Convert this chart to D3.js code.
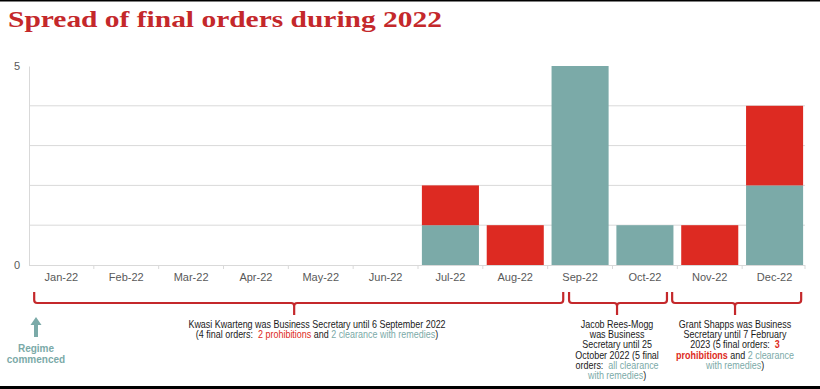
<!DOCTYPE html>
<html>
<head>
<meta charset="utf-8">
<script src="https://cdn.jsdelivr.net/npm/d3@7"></script>
<style>
  body { margin: 0; background: #fff; }
  svg { display: block; }
  text { font-family: "Liberation Sans", Arial, sans-serif; }
</style>
</head>
<body>
<script>
// data
const months = ['Jan-22', 'Feb-22', 'Mar-22', 'Apr-22', 'May-22', 'Jun-22',
                'Jul-22', 'Aug-22', 'Sep-22', 'Oct-22', 'Nov-22', 'Dec-22'];
const clearance = [0, 0, 0, 0, 0, 0, 1, 0, 5, 1, 0, 2];
const prohibitions = [0, 0, 0, 0, 0, 0, 1, 1, 0, 0, 1, 2];
const yTicks = [0, 5];
const gridValues = [1, 2, 3, 4];

// secretary periods: where each brace starts, ends and points (month + fraction of a step)
const periods = [
  { from: 'Jan-22', fromFrac: 0.08, to: 'Sep-22', toFrac: 0.24, mid: 'May-22', midFrac: 0.09 },
  { from: 'Sep-22', fromFrac: 0.33, to: 'Oct-22', toFrac: 0.84, mid: 'Oct-22', midFrac: 0.07 },
  { from: 'Oct-22', fromFrac: 0.92, to: 'Dec-22', toFrac: 0.91, mid: 'Nov-22', midFrac: 0.89 }
];

const W = 820, H = 389;
const red = '#dd2a22', teal = '#7baaa8', braceRed = '#c4282b';

const svg = d3.select('body').append('svg')
  .attr('width', W).attr('height', H);

// frame lines
svg.append('rect').attr('x', 0).attr('y', 0).attr('width', W).attr('height', 1.5).attr('fill', '#000');
svg.append('rect').attr('x', 0).attr('y', 386).attr('width', W).attr('height', 3).attr('fill', '#000');

// title
svg.append('text')
  .attr('x', 8).attr('y', 27)
  .attr('textLength', 434).attr('lengthAdjust', 'spacingAndGlyphs')
  .style('font-family', '"Liberation Serif", "DejaVu Serif", serif')
  .style('font-weight', 'bold')
  .style('font-size', '24px')
  .attr('fill', '#c4282b')
  .text('Spread of final orders during 2022');

const x = d3.scaleBand().domain(months).range([29, 807])
  .paddingInner(0.12).paddingOuter(0.06);
const y = d3.scaleLinear().domain([0, 5]).range([265, 66]);
const step = x.step();
const bandLeft = m => x(m) - x.paddingInner() * step / 2;
const at = (m, f) => bandLeft(m) + f * step;

// gridlines
svg.append('g').selectAll('line').data(gridValues).join('line')
  .attr('x1', 29).attr('x2', 805)
  .attr('y1', d => y(d)).attr('y2', d => y(d))
  .attr('stroke', '#d9d9d9').attr('stroke-width', 1);

// bars
const stacked = months.map((m, i) => ({ m, c: clearance[i], p: prohibitions[i] }));
svg.append('g').selectAll('rect').data(stacked.filter(d => d.c > 0)).join('rect')
  .attr('x', d => x(d.m)).attr('width', x.bandwidth())
  .attr('y', d => y(d.c)).attr('height', d => y(0) - y(d.c))
  .attr('fill', teal);
svg.append('g').selectAll('rect').data(stacked.filter(d => d.p > 0)).join('rect')
  .attr('x', d => x(d.m)).attr('width', x.bandwidth())
  .attr('y', d => y(d.c + d.p)).attr('height', d => y(d.c) - y(d.c + d.p))
  .attr('fill', red);

// y axis
const yAxis = svg.append('g').attr('transform', 'translate(29,0)')
  .call(d3.axisLeft(y).tickValues(yTicks).tickFormat(d3.format('d')).tickSize(0).tickPadding(9));
yAxis.select('.domain').attr('stroke', '#d9d9d9');
yAxis.selectAll('text').style('font-size', '11px').attr('fill', '#595959');

// x axis
const xAxis = svg.append('g').attr('transform', `translate(0,${y(0)})`)
  .call(d3.axisBottom(x).tickSize(0).tickPadding(8));
xAxis.select('.domain').attr('stroke', '#d9d9d9').attr('d', `M29,0.5H805`);
xAxis.selectAll('text').style('font-size', '11px').attr('fill', '#595959');
svg.append('g').selectAll('line').data(months.slice(1).concat(['end'])).join('line')
  .attr('x1', (d, i) => i < 11 ? bandLeft(d) : 805)
  .attr('x2', (d, i) => i < 11 ? bandLeft(d) : 805)
  .attr('y1', y(0)).attr('y2', y(0) + 4)
  .attr('stroke', '#d9d9d9');

// braces
const braceY = 303, braceTop = 292, braceBottom = 315;
function bracePath(p) {
  const x0 = at(p.from, p.fromFrac);
  const x1 = at(p.to, p.toFrac);
  const xm = at(p.mid, p.midFrac);
  const r = 3;
  return `M${x0},${braceTop}V${braceY - r}Q${x0},${braceY} ${x0 + r},${braceY}` +
    `H${xm - r}Q${xm},${braceY} ${xm},${braceY + r}V${braceBottom}` +
    `M${xm},${braceY + r}Q${xm},${braceY} ${xm + r},${braceY}` +
    `H${x1 - r}Q${x1},${braceY} ${x1},${braceY - r}V${braceTop}`;
}
svg.append('g').selectAll('path').data(periods).join('path')
  .attr('d', bracePath)
  .attr('fill', 'none').attr('stroke', braceRed).attr('stroke-width', 2.2);

// annotation text blocks: each line is a list of [text, colour, bold]
const k = '#1a1a1a';
const notes = [
  { cx: 317, y0: 328, lh: 10.5, lines: [
    [['Kwasi Kwarteng was Business Secretary until 6 September 2022', k]],
    [['(4 final orders:  ', k], ['2 prohibitions', red], [' and ', k], ['2 clearance with remedies', teal], [')', k]]
  ]},
  { cx: at(periods[1].mid, periods[1].midFrac), y0: 328, lh: 10.2, lines: [
    [['Jacob Rees-Mogg', k]],
    [['was Business', k]],
    [['Secretary until 25', k]],
    [['October 2022 (5 final', k]],
    [['orders:  ', k], ['all clearance', teal]],
    [['with remedies', teal], [')', k]]
  ]},
  { cx: at(periods[2].mid, periods[2].midFrac), y0: 328, lh: 10.2, lines: [
    [['Grant Shapps was Business', k]],
    [['Secretary until 7 February', k]],
    [['2023 (5 final orders:  ', k], ['3', red, true]],
    [['prohibitions', red, true], [' and ', k], ['2 clearance', teal]],
    [['with remedies', teal], [')', k]]
  ]}
];
notes.forEach(n => {
  const t = svg.append('text')
    .attr('text-anchor', 'middle')
    .attr('transform', `translate(${n.cx},0) scale(0.87,1)`)
    .style('white-space', 'pre')
    .style('font-size', '10.3px');
  n.lines.forEach((line, li) => {
    line.forEach((seg, si) => {
      const ts = t.append('tspan').text(seg[0]).attr('fill', seg[1])
        .style('font-weight', seg[2] ? 'bold' : 'normal');
      if (si === 0) ts.attr('x', 0).attr('y', n.y0 + li * n.lh);
    });
  });
});

// regime commenced arrow
const ax = 36;
svg.append('path')
  .attr('d', `M${ax},317L${ax + 5.5},325H${ax + 2}V337H${ax - 2}V325H${ax - 5.5}Z`)
  .attr('fill', teal);
svg.append('text').attr('text-anchor', 'middle')
  .style('font-size', '10px').style('font-weight', 'bold').attr('fill', teal)
  .selectAll('tspan').data(['Regime', 'commenced']).join('tspan')
  .attr('x', ax).attr('y', (d, i) => 352 + i * 11)
  .text(d => d);
</script>
</body>
</html>
